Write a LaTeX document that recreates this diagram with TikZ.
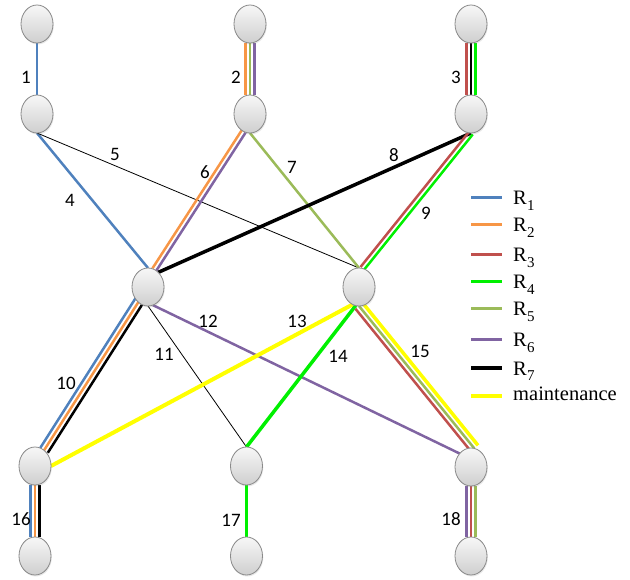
\documentclass[tikz,border=0pt]{standalone}
\usepackage{fontspec}
\setmainfont{Liberation Serif}
\newfontfamily\numfont{Carlito}
\usetikzlibrary{shapes.geometric,calc,backgrounds,shadows}
\definecolor{cRa}{HTML}{4F81BD}
\definecolor{cRb}{HTML}{F79646}
\definecolor{cRc}{HTML}{C0504D}
\definecolor{cRd}{HTML}{00F000}
\definecolor{cRe}{HTML}{9BBB59}
\definecolor{cRf}{HTML}{8064A2}
\definecolor{cRg}{HTML}{000000}
\definecolor{cMt}{HTML}{FFFF00}
\definecolor{nodeborder}{HTML}{8A8A8A}
\newcommand\linep[4]{\draw[#4] ($(#1)!#3!90:(#2)$) -- ($(#2)!#3!-90:(#1)$);}
\newcommand\linen[4]{\draw[#4] ($(#1)!#3!-90:(#2)$) -- ($(#2)!#3!90:(#1)$);}
\newcommand\Rsub[1]{R\kern0.3pt\raisebox{-5.5pt}{\fontsize{15}{15}\selectfont #1}}
\begin{document}
\begin{tikzpicture}[x=1pt,y=-1pt,
  nd/.style={ellipse,draw=nodeborder,line width=0.8pt,top color=gray!6,bottom color=gray!38,
    minimum width=32pt,minimum height=38pt,inner sep=0pt,outer sep=0pt,
    drop shadow={opacity=0.18,shadow xshift=0.8pt,shadow yshift=-1.5pt}},
  lbl/.style={font=\numfont\fontsize{19}{19}\selectfont,inner sep=0pt},
  route/.style={line width=2.5pt},
  thinl/.style={line width=0.8pt,black},
  legline/.style={line width=3.2pt},
  legtxt/.style={anchor=base west,inner sep=0pt,font=\fontsize{20.5}{20.5}\selectfont}]
\useasboundingbox (0,0) rectangle (630,580);
% nodes
\node[nd] (n1) at (37,24) {};
\node[nd] (n2) at (250,24) {};
\node[nd] (n3) at (471,24) {};
\node[nd] (n4) at (37,114) {};
\node[nd] (n5) at (250,114) {};
\node[nd] (n6) at (471,114) {};
\node[nd] (L) at (148,287) {};
\node[nd] (R) at (359,287) {};
\node[nd] (B1) at (35,466) {};
\node[nd] (B2) at (246.5,466) {};
\node[nd] (B3) at (471,467) {};
\node[nd] (C1) at (35,556) {};
\node[nd] (C2) at (246.5,556) {};
\node[nd] (C3) at (471,556) {};
\begin{scope}[on background layer]
% 1
\draw[route,cRa] (n1.south) -- (n4.north);
% 2
\linen{n2.south}{n5.north}{4.5pt}{route,cRb}
\draw[route,cRe] (n2.south) -- (n5.north);
\linep{n2.south}{n5.north}{4.5pt}{route,cRf}
% 3
\linen{n3.south}{n6.north}{4.5pt}{route,cRc}
\draw[route,cRg] (n3.south) -- (n6.north);
\linep{n3.south}{n6.north}{4.5pt}{route,cRd}
% 4
\draw[route,cRa] (n4.south) -- (L.north);
% 5
\draw[thinl] (n4.south) -- (R.north);
% 6
\linen{n5.250}{L.70}{2.25pt}{route,cRb}
\linep{n5.250}{L.70}{2.25pt}{route,cRf}
% 7
\draw[route,cRe] (n5.south) -- (R.north);
% 8
\draw[line width=3.5pt,cRg] (n6.south) -- (L.55);
% 9
\linen{n6.south}{R.80}{2.25pt}{route,cRc}
\linep{n6.south}{R.80}{2.25pt}{route,cRd}
% 10
\linen{L.center}{B1.60}{4.5pt}{route,cRa}
\draw[route,cRb] (L.center) -- (B1.60);
\linep{L.center}{B1.60}{4.5pt}{route,cRg}
% 11
\draw[thinl] (L.south) -- (B2.north);
% 12
\draw[route,cRf] (L.285) -- (B3.north west);
% 13
\draw[line width=4pt,cMt] (R.250) -- (B1.east);
% 14
\draw[line width=3.5pt,cRd] (R.260) -- (B2.north);
% 15
\linen{R.south}{B3.80}{4.5pt}{route,cRc}
\draw[route,cRe] (R.south) -- (B3.80);
\linep{R.south}{B3.80}{4.8pt}{line width=3.5pt,cMt}
% 16
\linen{B1.south}{C1.north}{4.5pt}{route,cRa}
\draw[route,cRb] (B1.south) -- (C1.north);
\linep{B1.south}{C1.north}{4.5pt}{route,cRg}
% 17
\draw[line width=3pt,cRd] (B2.south) -- (C2.north);
% 18
\linen{B3.south}{C3.north}{4.5pt}{route,cRf}
\draw[route,cRc] (B3.south) -- (C3.north);
\linep{B3.south}{C3.north}{4.5pt}{route,cRe}
\end{scope}
% edge labels
\node[lbl] (t1) at (26,77) {1};
\node[lbl] (t2) at (236,77) {2};
\node[lbl] (t3) at (456,77) {3};
\node[lbl] (t4) at (70,200) {4};
\node[lbl] (t5) at (115,154) {5};
\node[lbl] (t6) at (205,172) {6};
\node[lbl] (t7) at (292,167) {7};
\node[lbl] (t8) at (394,155) {8};
\node[lbl] (t9) at (426,213) {9};
\node[lbl] (t10) at (66,383) {10};
\node[lbl] (t11) at (164,354) {11};
\node[lbl] (t12) at (208,321) {12};
\node[lbl] (t13) at (297,321) {13};
\node[lbl] (t14) at (338,356) {14};
\node[lbl] (t15) at (420,351) {15};
\node[lbl] (t16) at (21,519) {16};
\node[lbl] (t17) at (231,520) {17};
\node[lbl] (t18) at (451,519) {18};
% legend
\foreach \yy/\cc/\nn in {197.7/cRa/1,224.5/cRb/2,254.5/cRc/3,281.5/cRd/4,308.3/cRe/5,339.3/cRf/6,368/cRg/7}{
  \coordinate (la\nn) at (471,\yy);
  \coordinate (lb\nn) at (502,\yy);
  \draw[legline,\cc] (la\nn) -- (lb\nn);
  \node[legtxt] (lt\nn) at (513,\yy+7.3) {\Rsub{\nn}};
}
\coordinate (lam) at (471,396);
\coordinate (lbm) at (502,396);
\draw[line width=3.8pt,cMt] (lam) -- (lbm);
\node[legtxt] (ltm) at (513,400.7) {maintenance};
\end{tikzpicture}
\end{document}
